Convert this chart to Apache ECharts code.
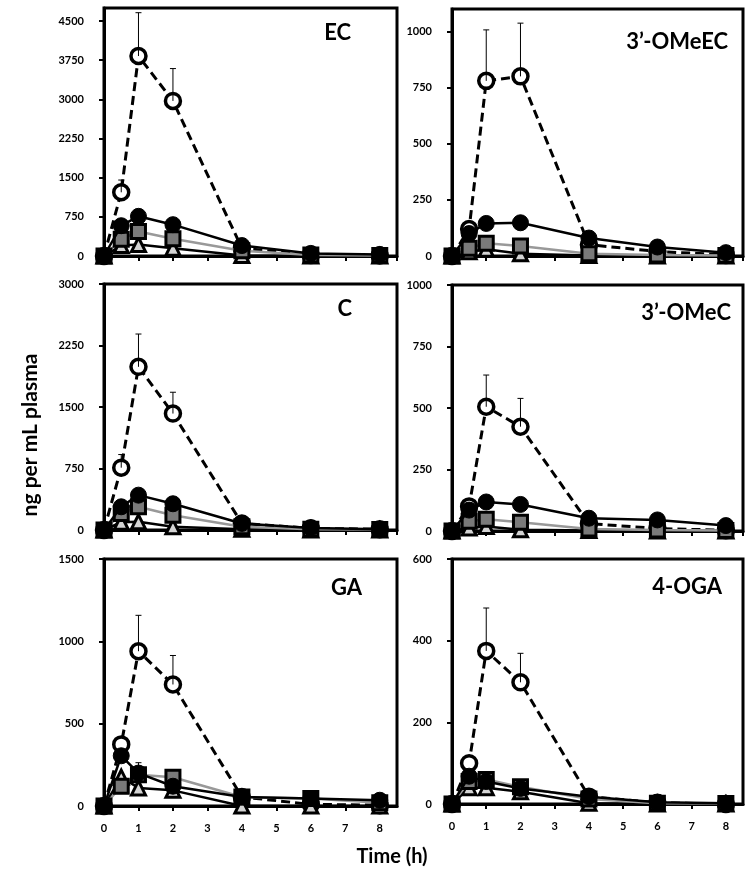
<!DOCTYPE html>
<html>
<head>
<meta charset="utf-8">
<script src="https://cdn.jsdelivr.net/npm/echarts@6/dist/echarts.min.js"></script>
<style>
  html, body { margin: 0; padding: 0; background: #fff; }
  #main { width: 753px; height: 880px; }
</style>
</head>
<body>
<div id="main"></div>
<script>
// time points (h)
var hours = [0, 0.5, 1, 2, 4, 6, 8];
var xTicks = [0, 1, 2, 3, 4, 5, 6, 7, 8];

var panelNames = ['EC', '3\u2019-OMeEC', 'C', '3\u2019-OMeC', 'GA', '4-OGA'];
var yMax = [4750, 1100, 3000, 1000, 1500, 600];
var yStep = [750, 250, 750, 250, 500, 200];

// EC
var ecOpen = [0, 1220, 3830, 2970, 150, 20, 10];
var ecOpenSd = [0, 235, 830, 620, 0, 0, 0];
var ecFilled = [0, 580, 760, 600, 200, 50, 30];
var ecFilledSd = [0, 0, 0, 0, 0, 0, 0];
var ecSquare = [0, 320, 470, 330, 100, 20, 10];
var ecTriangle = [0, 200, 220, 150, 10, 0, 0];

// 3'-OMeEC
var omeecOpen = [0, 120, 780, 800, 50, 20, 5];
var omeecOpenSd = [0, 0, 227, 237, 0, 0, 0];
var omeecFilled = [0, 100, 145, 148, 80, 40, 15];
var omeecFilledSd = [0, 0, 0, 0, 0, 0, 0];
var omeecSquare = [0, 35, 57, 45, 10, 5, 2];
var omeecTriangle = [0, 19, 30, 10, 2, 0, 0];

// C
var cOpen = [0, 760, 1990, 1420, 80, 20, 10];
var cOpenSd = [0, 160, 400, 260, 0, 0, 0];
var cFilled = [0, 283, 425, 320, 80, 25, 10];
var cFilledSd = [0, 0, 0, 0, 0, 0, 0];
var cSquare = [0, 200, 283, 180, 40, 10, 5];
var cTriangle = [0, 95, 100, 40, 10, 0, 0];

// 3'-OMeC
var omecOpen = [0, 100, 505, 424, 30, 10, 3];
var omecOpenSd = [0, 0, 129, 115, 0, 0, 0];
var omecFilled = [0, 85, 118, 108, 52, 45, 22];
var omecFilledSd = [0, 0, 0, 0, 0, 0, 0];
var omecSquare = [0, 40, 48, 36, 8, 4, 2];
var omecTriangle = [0, 12, 18, 5, 2, 0, 0];

// GA
var gaOpen = [0, 374, 940, 738, 55, 10, 5];
var gaOpenSd = [0, 0, 218, 176, 0, 0, 0];
var gaFilled = [0, 305, 200, 120, 55, 45, 35];
var gaFilledSd = [0, 0, 63, 0, 0, 0, 0];
var gaSquare = [0, 120, 190, 175, 55, 45, 20];
var gaTriangle = [0, 175, 110, 95, 0, 0, 0];

// 4-OGA
var ogaOpen = [0, 100, 375, 298, 18, 3, 0];
var ogaOpenSd = [0, 0, 105, 71, 0, 0, 0];
var ogaFilled = [0, 68, 55, 38, 18, 4, 2];
var ogaFilledSd = [0, 0, 0, 0, 0, 0, 0];
var ogaSquare = [0, 55, 60, 42, 12, 2, 1];
var ogaTriangle = [0, 40, 40, 30, 2, 0, 0];

var panels = [
  { open: ecOpen, openSd: ecOpenSd, filled: ecFilled, filledSd: ecFilledSd, square: ecSquare, tri: ecTriangle },
  { open: omeecOpen, openSd: omeecOpenSd, filled: omeecFilled, filledSd: omeecFilledSd, square: omeecSquare, tri: omeecTriangle },
  { open: cOpen, openSd: cOpenSd, filled: cFilled, filledSd: cFilledSd, square: cSquare, tri: cTriangle },
  { open: omecOpen, openSd: omecOpenSd, filled: omecFilled, filledSd: omecFilledSd, square: omecSquare, tri: omecTriangle },
  { open: gaOpen, openSd: gaOpenSd, filled: gaFilled, filledSd: gaFilledSd, square: gaSquare, tri: gaTriangle },
  { open: ogaOpen, openSd: ogaOpenSd, filled: ogaFilled, filledSd: ogaFilledSd, square: ogaSquare, tri: ogaTriangle }
];

var font = 'Lato, "Open Sans", sans-serif';

var gridPos = [
  { left: 104, top: 8, width: 293, height: 248 },
  { left: 452, top: 9, width: 291, height: 247 },
  { left: 104, top: 284, width: 293, height: 246 },
  { left: 452, top: 285, width: 291, height: 246 },
  { left: 104, top: 559, width: 293, height: 247 },
  { left: 452, top: 559, width: 291, height: 245 }
];
// right edge / vertical centre of the panel names
var namePos = [
  [351, 33], [728, 42],
  [352, 309], [731, 313],
  [362, 588], [722, 587]
];

function pairs(ys) {
  return hours.map(function (h, k) { return [h, ys[k]]; });
}
function errData(ys, sd) {
  var out = [];
  hours.forEach(function (h, k) {
    if (sd[k] > 0) out.push([h, ys[k], ys[k] + sd[k]]);
  });
  return out;
}
function renderErr(params, api) {
  var p0 = api.coord([api.value(0), api.value(1)]);
  var p1 = api.coord([api.value(0), api.value(2)]);
  var st = { stroke: '#000', lineWidth: 1 };
  return {
    type: 'group',
    children: [
      { type: 'line', shape: { x1: p0[0], y1: p0[1], x2: p1[0], y2: p1[1] }, style: st },
      { type: 'line', shape: { x1: p1[0] - 3, y1: p1[1], x2: p1[0] + 3, y2: p1[1] }, style: st }
    ]
  };
}

var grids = [], xAxes = [], yAxes = [], series = [], texts = [];

panels.forEach(function (p, i) {
  grids.push(Object.assign({
    show: true, borderColor: '#000', borderWidth: 3, containLabel: false
  }, gridPos[i]));

  xAxes.push({
    type: 'value', gridIndex: i, min: 0, max: 8.5, interval: 1,
    axisLine: { show: true, onZero: true, lineStyle: { color: '#000', width: 3 } },
    axisTick: { show: true, length: 5, lineStyle: { color: '#000', width: 2 } },
    axisLabel: {
      show: i >= 4, showMaxLabel: false, margin: 17,
      color: '#000', fontWeight: 'bold', fontSize: 11, fontFamily: font,
      formatter: function (v) { return xTicks.indexOf(v) >= 0 ? String(v) : ''; }
    },
    splitLine: { show: false }
  });

  yAxes.push({
    type: 'value', gridIndex: i, min: 0, max: yMax[i], interval: yStep[i],
    axisLine: { show: true, lineStyle: { color: '#000', width: 3 } },
    axisTick: { show: true, length: 5, lineStyle: { color: '#000', width: 2 } },
    axisLabel: {
      showMaxLabel: yMax[i] % yStep[i] === 0, margin: 20,
      color: '#000', fontWeight: 'bold', fontSize: 11, fontFamily: font,
      formatter: function (v) { return String(v); }
    },
    splitLine: { show: false }
  });

  texts.push({
    type: 'text', x: namePos[i][0], y: namePos[i][1],
    style: { text: panelNames[i], fontFamily: font, fontWeight: 'bold', fontSize: 22,
             fill: '#000', textAlign: 'right', textVerticalAlign: 'middle' }
  });

  var base = { xAxisIndex: i, yAxisIndex: i, clip: false, animation: false };

  series.push(Object.assign({
    type: 'line', name: 'open', data: pairs(p.open), z: 2,
    symbol: 'circle', symbolSize: 15,
    lineStyle: { color: '#000', width: 3, type: [9, 5] },
    itemStyle: { color: '#fff', borderColor: '#000', borderWidth: 3.5 }
  }, base));

  series.push(Object.assign({
    type: 'line', name: 'triangle', data: pairs(p.tri), z: 3,
    symbol: 'triangle', symbolSize: 14,
    lineStyle: { color: '#000', width: 2.5 },
    itemStyle: { color: '#d4d4d4', borderColor: '#000', borderWidth: 3 }
  }, base));

  series.push(Object.assign({
    type: 'line', name: 'square', data: pairs(p.square), z: 4,
    symbol: 'rect', symbolSize: 14,
    lineStyle: { color: '#999', width: 2.5 },
    itemStyle: { color: '#7a7a7a', borderColor: '#000', borderWidth: 3 }
  }, base));

  series.push(Object.assign({
    type: 'line', name: 'filled', data: pairs(p.filled), z: 5,
    symbol: 'circle', symbolSize: 16,
    lineStyle: { color: '#000', width: 2.5 },
    itemStyle: { color: '#000', borderColor: '#000', borderWidth: 1 }
  }, base));

  series.push(Object.assign({
    type: 'custom', renderItem: renderErr, z: 6,
    data: errData(p.open, p.openSd).concat(errData(p.filled, p.filledSd))
  }, base));
});

texts.push({
  type: 'text', x: 30, y: 435, rotation: Math.PI / 2,
  style: { text: 'ng per mL plasma', fontFamily: font, fontWeight: 'bold', fontSize: 21,
           fill: '#000', textAlign: 'center', textVerticalAlign: 'middle' }
});
texts.push({
  type: 'text', x: 392, y: 857,
  style: { text: 'Time (h)', fontFamily: font, fontWeight: 'bold', fontSize: 20,
           fill: '#000', textAlign: 'center', textVerticalAlign: 'middle' }
});

var chart = echarts.init(document.getElementById('main'), null, { width: 753, height: 880 });
chart.setOption({
  backgroundColor: '#fff',
  animation: false,
  grid: grids,
  xAxis: xAxes,
  yAxis: yAxes,
  series: series,
  graphic: texts
});
</script>
</body>
</html>
